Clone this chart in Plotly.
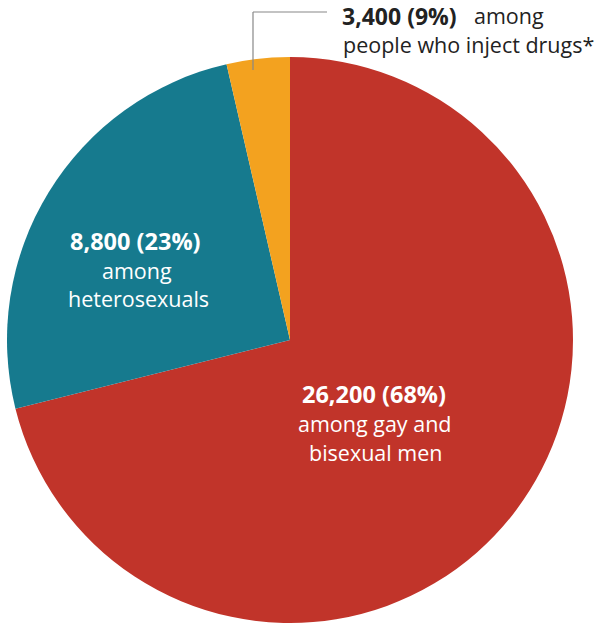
import plotly.graph_objects as go

W, H = 600, 633

# slice order: clockwise from 12 o'clock
groups = ["Gay and bisexual men", "Heterosexuals", "People who inject drugs"]
slice_sizes = [71.1, 25.3, 3.6]  # shares as drawn in the picture
counts = ["26,200", "8,800", "3,400"]
pcts = ["68%", "23%", "9%"]
colors = ["#C1342A", "#167A8E", "#F3A21F"]

FONT = "Open Sans"
REG = 21.5
BOLD = 23.5


def px(x, y):
    # pixel position -> paper coords
    return x / W, 1 - y / H


fig = go.Figure()
fig.add_trace(
    go.Pie(
        labels=groups,
        values=slice_sizes,
        sort=False,
        direction="clockwise",
        rotation=0,
        marker=dict(colors=colors, line=dict(width=0)),
        textinfo="none",
        hoverinfo="label",
        showlegend=False,
        domain=dict(x=[7 / W, 573 / W], y=[1 - 623 / H, 1 - 57 / H]),
    )
)

ann = []

# orange label (outside, top right)
x, y = px(340, 16)
ann.append(dict(x=x, y=y, text=f"<b>{counts[2]} ({pcts[2]})</b>",
                xanchor="left", yanchor="middle", font=dict(size=BOLD - 0.5, color="#222")))
x, y = px(472, 16)
ann.append(dict(x=x, y=y, text="among",
                xanchor="left", yanchor="middle", font=dict(size=REG, color="#222")))
x, y = px(341, 45)
ann.append(dict(x=x, y=y, text="people who inject drugs*",
                xanchor="left", yanchor="middle", font=dict(size=REG, color="#222")))

# teal label
x, y = px(135, 241)
ann.append(dict(x=x, y=y, text=f"<b>{counts[1]} ({pcts[1]})</b>",
                xanchor="center", yanchor="middle", font=dict(size=BOLD, color="white")))
x, y = px(137, 270)
ann.append(dict(x=x, y=y, text="among", xanchor="center", yanchor="middle",
                font=dict(size=REG, color="white")))
x, y = px(138, 298)
ann.append(dict(x=x, y=y, text="heterosexuals", xanchor="center", yanchor="middle",
                font=dict(size=REG, color="white")))

# red label
x, y = px(374, 394)
ann.append(dict(x=x, y=y, text=f"<b>{counts[0]} ({pcts[0]})</b>",
                xanchor="center", yanchor="middle", font=dict(size=BOLD, color="white")))
x, y = px(375, 423)
ann.append(dict(x=x, y=y, text="among gay and", xanchor="center", yanchor="middle",
                font=dict(size=REG, color="white")))
x, y = px(375, 452)
ann.append(dict(x=x, y=y, text="bisexual men", xanchor="center", yanchor="middle",
                font=dict(size=REG, color="white")))

for a in ann:
    a.update(xref="paper", yref="paper", showarrow=False)
    a["font"]["family"] = FONT

# leader line to orange slice
x0, y0 = px(253, 12)
x1, _ = px(327, 12)
_, y2 = px(253, 70)
line = dict(color="#888", width=1.2)
shapes = [
    dict(type="line", xref="paper", yref="paper", x0=x0, y0=y0, x1=x1, y1=y0, line=line),
    dict(type="line", xref="paper", yref="paper", x0=x0, y0=y0, x1=x0, y1=y2, line=line),
]

fig.update_layout(
    width=W,
    height=H,
    margin=dict(l=0, r=0, t=0, b=0),
    paper_bgcolor="white",
    plot_bgcolor="white",
    annotations=ann,
    shapes=shapes,
    font=dict(family=FONT),
)

# drop the default page margin so the figure sits at the window's corner
fig.write_html(
    "out.html",
    config={"displayModeBar": False},
    post_script="document.body.style.margin='0';",
)
